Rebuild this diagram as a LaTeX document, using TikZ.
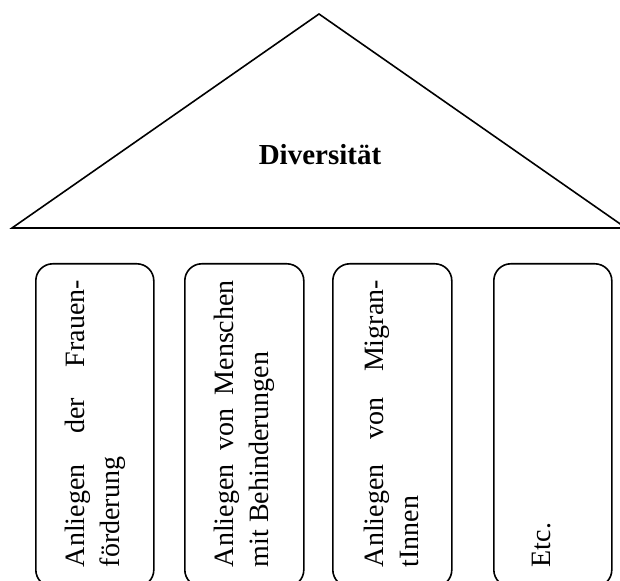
\documentclass[tikz,border=0pt]{standalone}
\usepackage{fontspec}
\setmainfont{Liberation Serif}
\begin{document}
\begin{tikzpicture}[x=1pt,y=1pt,
  line width=1.6pt,
  pillar/.style={draw, rounded corners=17pt, minimum height=323pt, inner sep=0pt, anchor=north west},
  ptext/.style={rotate=90, anchor=base west, inner sep=0pt, font=\fontsize{28}{35}\selectfont},
]
\useasboundingbox (0,0) rectangle (620,580);
\fill[white] (0,0) rectangle (620,580);
\coordinate (apex) at (319,566);
\coordinate (bl) at (12,352);
\coordinate (br) at (626,352);
\draw[line join=miter] (bl) -- (apex) -- (br) -- cycle;
\node[font=\bfseries\fontsize{29}{34}\selectfont] (title) at (320,425) {Diversität};
\node[pillar, minimum width=118pt] (p1) at (35,317) {};
\node[pillar, minimum width=119pt] (p2) at (184,317) {};
\node[pillar, minimum width=119pt] (p3) at (332,317) {};
\node[pillar, minimum width=118pt] (p4) at (493,317) {};
\node[ptext] (t1) at (84,12) {\parbox[t]{287pt}{\hbox to\hsize{Anliegen\hfill der\hfill Frauen-}\hbox{förderung}}};
\node[ptext] (t2) at (233,12) {\parbox[t]{287pt}{\hbox to\hsize{Anliegen\hfill von\hfill Menschen}\hbox{mit Behinderungen}}};
\node[ptext] (t3) at (383,12) {\parbox[t]{287pt}{\hbox to\hsize{Anliegen\hfill von\hfill Migran-}\hbox{tInnen}}};
\node[ptext] (t4) at (550,12) {Etc.};
\end{tikzpicture}
\end{document}
